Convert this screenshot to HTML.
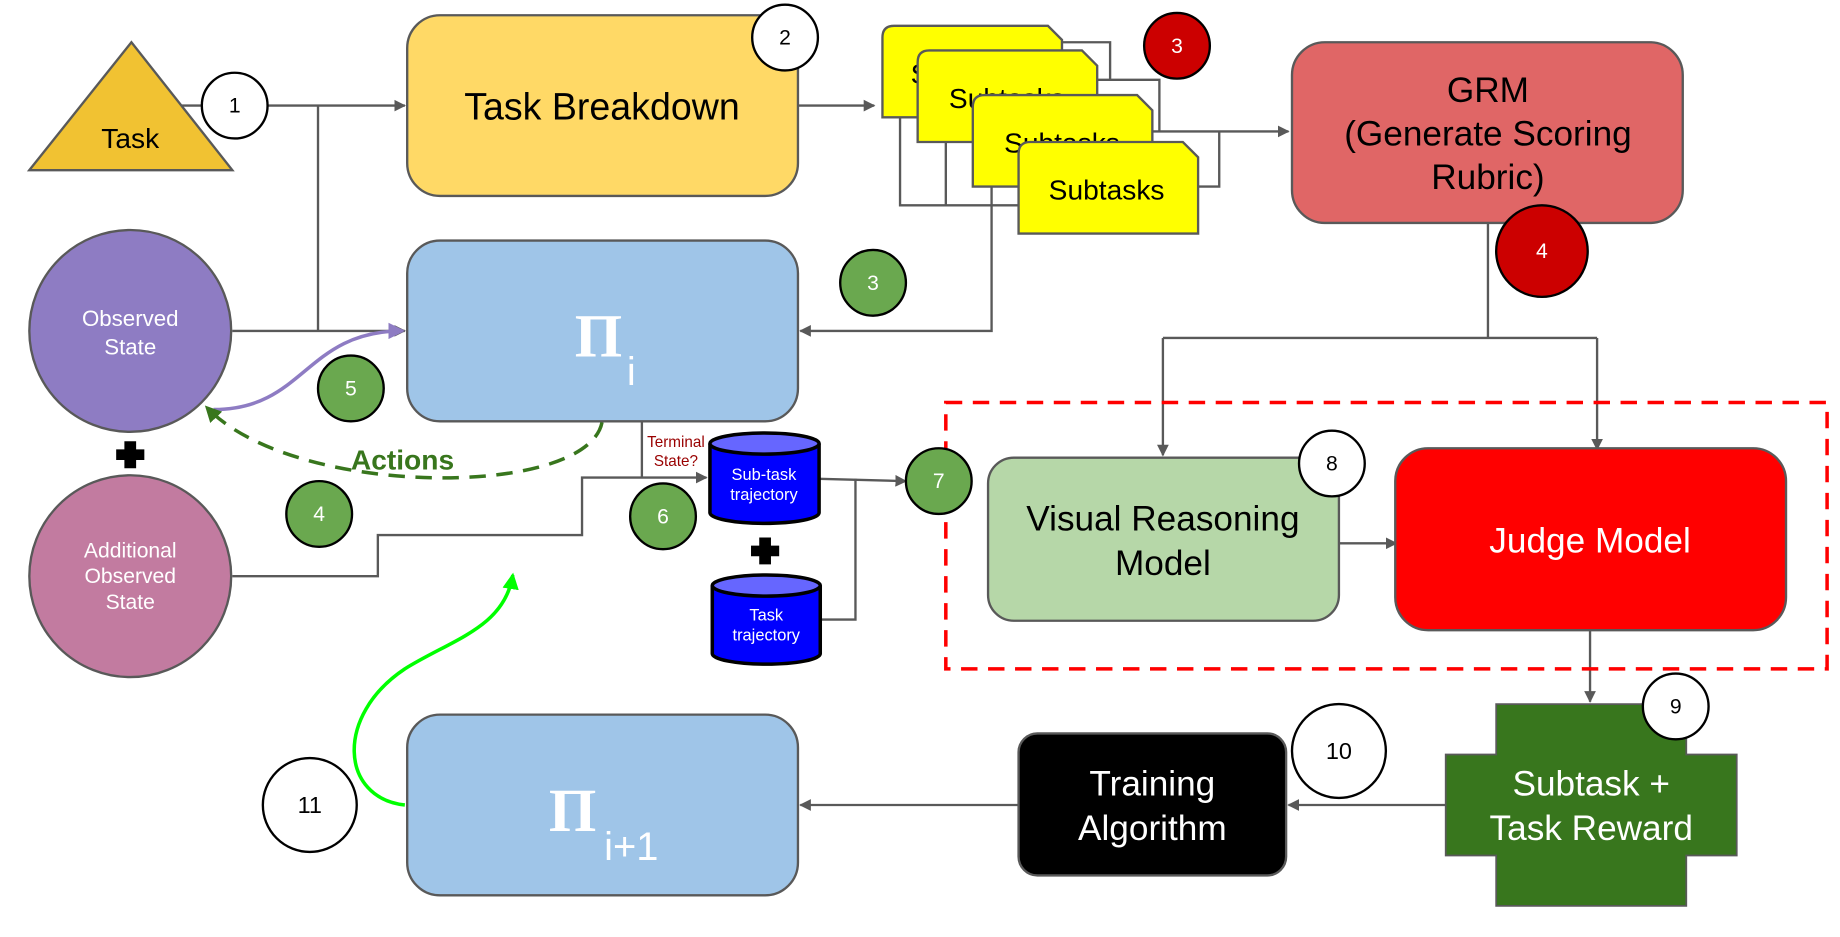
<!DOCTYPE html>
<html><head><meta charset="utf-8"><style>html,body{margin:0;padding:0;background:#fff}svg{display:block}text{font-family:"Liberation Sans",sans-serif}</style></head>
<body>
<svg width="1840" height="937" viewBox="0 0 1568 798.5" preserveAspectRatio="none" xmlns="http://www.w3.org/2000/svg">
<defs>
<marker id="a" markerWidth="10" markerHeight="10" refX="9" refY="5" orient="auto" markerUnits="userSpaceOnUse" viewBox="0 0 10 10"><path d="M0,0 L10,5 L0,10z" fill="#595959"/></marker>
<marker id="ap" markerWidth="14" markerHeight="14" refX="12" refY="7" orient="auto" markerUnits="userSpaceOnUse" viewBox="0 0 14 14"><path d="M0,0 L14,7 L0,14z" fill="#8e7cc3"/></marker>
<marker id="ag" markerWidth="14" markerHeight="14" refX="12" refY="7" orient="auto" markerUnits="userSpaceOnUse" viewBox="0 0 14 14"><path d="M0,0 L14,7 L0,14z" fill="#38761d"/></marker>
<marker id="al" markerWidth="14" markerHeight="14" refX="12" refY="7" orient="auto" markerUnits="userSpaceOnUse" viewBox="0 0 14 14"><path d="M0,0 L14,7 L0,14z" fill="#00ff00"/></marker>
</defs>
<g fill="none" stroke="#595959" stroke-width="2">
<path d="M155,90 H345" marker-end="url(#a)"/>
<path d="M271,90 V282"/>
<path d="M198,282 H345" marker-end="url(#a)"/>
<path d="M680,90 H745" marker-end="url(#a)"/>
<path d="M900,36 H946 V68"/>
<path d="M935,68 H988 V112"/>
<path d="M982,112 H1098" marker-end="url(#a)"/>
<path d="M1021,159 H1039 V112"/>
<path d="M767,100 V175 H868"/>
<path d="M806,121 V175"/>
<path d="M845,159 V282 H682" marker-end="url(#a)"/>
<path d="M1268,190 V288"/>
<path d="M991,288 H1361"/>
<path d="M991,288 V388" marker-end="url(#a)"/>
<path d="M1361,288 V383" marker-end="url(#a)"/>
<path d="M198,491 H322 V456 H496 V407 H602" marker-end="url(#a)"/>
<path d="M547,359 V407"/>
<path d="M698,408 L772,410" marker-end="url(#a)"/>
<path d="M699,528 H729 V408"/>
<path d="M1141,463 H1190" marker-end="url(#a)"/>
<path d="M1355,537 V598" marker-end="url(#a)"/>
<path d="M1232,686 H1098" marker-end="url(#a)"/>
<path d="M868,686 H682" marker-end="url(#a)"/>
</g>
<polygon points="25,145 112,36 198,145" fill="#f1c232" stroke="#595959" stroke-width="2"/>
<text x="111" y="126" font-size="24" text-anchor="middle">Task</text>
<rect x="347" y="13" width="333" height="154" rx="28" fill="#ffd966" stroke="#595959" stroke-width="2"/>
<text x="513" y="102" font-size="32" text-anchor="middle">Task Breakdown</text>
<g fill="#ffff00" stroke="#595959" stroke-width="2" font-size="24">
<path d="M752,32 Q752,22 762,22 H893 L905,34 V100 H752Z"/>
<text x="776" y="71" fill="#000" stroke="none">S</text>
<path d="M782,53 Q782,43 792,43 H922 L935,56 V121 H782Z"/>
<text x="858" y="92" fill="#000" stroke="none" text-anchor="middle">Subtasks</text>
<path d="M829,91 Q829,81 839,81 H969 L982,94 V159 H829Z"/>
<text x="905" y="130" fill="#000" stroke="none" text-anchor="middle">Subtasks</text>
<path d="M868,131 Q868,121 878,121 H1008 L1021,134 V199 H868Z"/>
<text x="943" y="170" fill="#000" stroke="none" text-anchor="middle">Subtasks</text>
</g>
<rect x="1101" y="36" width="333" height="154" rx="28" fill="#e06666" stroke="#595959" stroke-width="2"/>
<text x="1268" y="87" font-size="30" text-anchor="middle">GRM</text>
<text x="1268" y="124" font-size="30" text-anchor="middle">(Generate Scoring</text>
<text x="1268" y="161" font-size="30" text-anchor="middle">Rubric)</text>
<rect x="347" y="205" width="333" height="154" rx="28" fill="#9fc5e8" stroke="#595959" stroke-width="2"/>
<text x="510" y="304" font-size="52" font-weight="bold" fill="#fff" text-anchor="middle" style="font-family:'Liberation Serif',serif">Π</text>
<text x="538" y="328" font-size="34" fill="#fff" text-anchor="middle">i</text>
<rect x="347" y="609" width="333" height="154" rx="28" fill="#9fc5e8" stroke="#595959" stroke-width="2"/>
<text x="488" y="708" font-size="52" font-weight="bold" fill="#fff" text-anchor="middle" style="font-family:'Liberation Serif',serif">Π</text>
<text x="538" y="733" font-size="34" fill="#fff" text-anchor="middle">i+1</text>
<circle cx="111" cy="282" r="86" fill="#8e7cc3" stroke="#595959" stroke-width="2"/>
<text x="111" y="278" font-size="19" fill="#fff" text-anchor="middle">Observed</text>
<text x="111" y="302" font-size="19" fill="#fff" text-anchor="middle">State</text>
<circle cx="111" cy="491" r="86" fill="#c27ba0" stroke="#595959" stroke-width="2"/>
<text x="111" y="475" font-size="18" fill="#fff" text-anchor="middle">Additional</text>
<text x="111" y="497" font-size="18" fill="#fff" text-anchor="middle">Observed</text>
<text x="111" y="519" font-size="18" fill="#fff" text-anchor="middle">State</text>
<path d="M106,376 h10 v7 h7 v9 h-7 v7 h-10 v-7 h-7 v-9 h7z" fill="#000"/>
<path d="M647,458 h10 v7 h7 v9 h-7 v7 h-10 v-7 h-7 v-9 h7z" fill="#000"/>
<path d="M182,349 C260,349 260,282 343,282" fill="none" stroke="#8e7cc3" stroke-width="3" marker-end="url(#ap)"/>
<path d="M513,360 C500,425 250,425 176,347" fill="none" stroke="#38761d" stroke-width="3" stroke-dasharray="14 9" marker-end="url(#ag)"/>
<text x="343" y="400" font-size="24" font-weight="bold" fill="#38761d" text-anchor="middle">Actions</text>
<text x="576" y="381" font-size="13" fill="#990000" text-anchor="middle">Terminal</text>
<text x="576" y="397" font-size="13" fill="#990000" text-anchor="middle">State?</text>
<g stroke="#000" stroke-width="3">
<path d="M605,378 V437 A46.5,9 0 0 0 698,437 V378" fill="#0000ff"/>
<ellipse cx="651.5" cy="378" rx="46.5" ry="9" fill="#6666ff"/>
<path d="M607,499 V557 A46,9 0 0 0 699,557 V499" fill="#0000ff"/>
<ellipse cx="653" cy="499" rx="46" ry="9" fill="#6666ff"/>
</g>
<text x="651" y="409" font-size="14" fill="#fff" text-anchor="middle">Sub-task</text>
<text x="651" y="426" font-size="14" fill="#fff" text-anchor="middle">trajectory</text>
<text x="653" y="529" font-size="14" fill="#fff" text-anchor="middle">Task</text>
<text x="653" y="546" font-size="14" fill="#fff" text-anchor="middle">trajectory</text>
<rect x="806" y="343" width="751" height="227" fill="none" stroke="#ff0000" stroke-width="3" stroke-dasharray="14 9"/>
<rect x="842" y="390" width="299" height="139" rx="22" fill="#b6d7a8" stroke="#595959" stroke-width="2"/>
<text x="991" y="452" font-size="30" text-anchor="middle">Visual Reasoning</text>
<text x="991" y="490" font-size="30" text-anchor="middle">Model</text>
<rect x="1189" y="382" width="333" height="155" rx="28" fill="#ff0000" stroke="#595959" stroke-width="2"/>
<text x="1355" y="471" font-size="30" fill="#fff" text-anchor="middle">Judge Model</text>
<path d="M1275,600 H1437 V643 H1480 V729 H1437 V772 H1275 V729 H1232 V643 H1275Z" fill="#38761d" stroke="#595959" stroke-width="1.5"/>
<text x="1356" y="678" font-size="30" fill="#fff" text-anchor="middle">Subtask +</text>
<text x="1356" y="716" font-size="30" fill="#fff" text-anchor="middle">Task Reward</text>
<rect x="868" y="625" width="228" height="121" rx="16" fill="#000" stroke="#595959" stroke-width="2"/>
<text x="982" y="678" font-size="30" fill="#fff" text-anchor="middle">Training</text>
<text x="982" y="716" font-size="30" fill="#fff" text-anchor="middle">Algorithm</text>
<path d="M345,686 C290,680 285,610 345,570 C385,545 430,535 437,490" fill="none" stroke="#00ff00" stroke-width="3" marker-end="url(#al)"/>
<g stroke="#000" stroke-width="2">
<circle cx="200" cy="90" r="28" fill="#fff"/>
<circle cx="669" cy="32" r="28" fill="#fff"/>
<circle cx="1003" cy="39" r="28" fill="#cc0000"/>
<circle cx="1314" cy="214" r="39" fill="#cc0000"/>
<circle cx="744" cy="241" r="28" fill="#6aa84f"/>
<circle cx="299" cy="331" r="28" fill="#6aa84f"/>
<circle cx="272" cy="438" r="28" fill="#6aa84f"/>
<circle cx="565" cy="440" r="28" fill="#6aa84f"/>
<circle cx="800" cy="410" r="28" fill="#6aa84f"/>
<circle cx="1135" cy="395" r="28" fill="#fff"/>
<circle cx="1428" cy="602" r="28" fill="#fff"/>
<circle cx="1141" cy="640" r="40" fill="#fff"/>
<circle cx="264" cy="686" r="40" fill="#fff"/>
</g>
<g font-size="18" text-anchor="middle">
<text x="200" y="96">1</text>
<text x="669" y="38">2</text>
<text x="1003" y="45" fill="#fff">3</text>
<text x="1314" y="220" fill="#fff">4</text>
<text x="744" y="247" fill="#fff">3</text>
<text x="299" y="337" fill="#fff">5</text>
<text x="272" y="444" fill="#fff">4</text>
<text x="565" y="446" fill="#fff">6</text>
<text x="800" y="416" fill="#fff">7</text>
<text x="1135" y="401">8</text>
<text x="1428" y="608">9</text>
<text x="1141" y="647" font-size="20">10</text>
<text x="264" y="693" font-size="20">11</text>
</g>
</svg>
</body></html>
